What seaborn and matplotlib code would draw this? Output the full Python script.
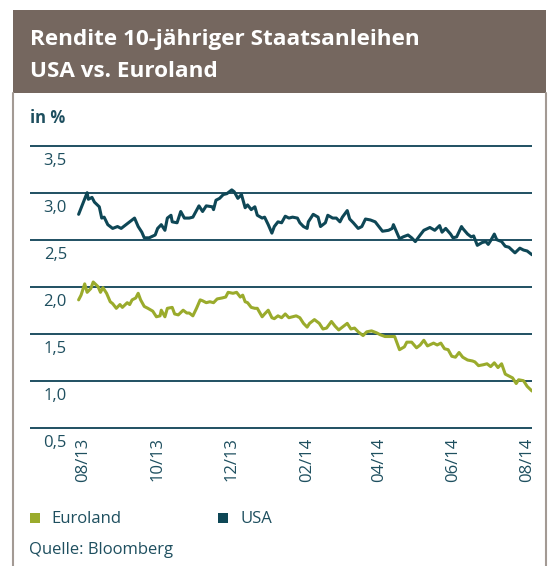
import pandas as pd
import seaborn as sns
import matplotlib.pyplot as plt
from matplotlib.patches import Rectangle

# Data (days after 28 Jul 2013, yield in %)
usa_days = [0, 7, 8, 11, 13, 17, 19, 21, 24, 28, 32, 35, 38, 42, 46, 49, 52, 54, 58, 63,
            65, 68, 71, 73, 76, 77, 81, 84, 87, 91, 94, 99, 102, 105, 110, 111, 113, 116, 119, 122,
            126, 128, 131, 134, 137, 139, 142, 145, 147, 151, 153, 156, 159, 161, 164, 167, 170, 173, 176, 180,
            182, 185, 188, 189, 193, 197, 199, 203, 205, 209, 212, 215, 217, 221, 223, 226, 230, 233, 236, 240,
            244, 247, 250, 255, 258, 259, 264, 267, 271, 274, 277, 281, 284, 289, 293, 297, 299, 302, 306, 308,
            311, 315, 316, 320, 323, 325, 328, 332, 335, 337, 339, 342, 344, 348, 351, 354, 359, 363, 366, 369,
            372, 373]
usa_yield = [2.77, 3.00, 2.93, 2.95, 2.90, 2.85, 2.73, 2.74, 2.66, 2.62, 2.64, 2.62, 2.65, 2.69, 2.73, 2.64, 2.58, 2.52, 2.52, 2.55,
             2.62, 2.66, 2.60, 2.73, 2.76, 2.69, 2.68, 2.80, 2.73, 2.73, 2.74, 2.86, 2.80, 2.86, 2.85, 2.82, 2.92, 2.94, 2.98, 2.99,
             3.03, 3.01, 2.94, 2.98, 2.84, 2.87, 2.82, 2.85, 2.76, 2.73, 2.74, 2.66, 2.57, 2.64, 2.69, 2.68, 2.75, 2.73, 2.74, 2.73,
             2.68, 2.64, 2.62, 2.69, 2.77, 2.74, 2.64, 2.68, 2.76, 2.73, 2.73, 2.69, 2.74, 2.81, 2.72, 2.68, 2.62, 2.64, 2.72, 2.71,
             2.69, 2.64, 2.59, 2.60, 2.62, 2.66, 2.51, 2.53, 2.55, 2.52, 2.48, 2.55, 2.60, 2.63, 2.60, 2.65, 2.58, 2.62, 2.56, 2.52,
             2.53, 2.64, 2.62, 2.56, 2.53, 2.54, 2.44, 2.47, 2.48, 2.45, 2.49, 2.56, 2.50, 2.48, 2.43, 2.42, 2.36, 2.41, 2.39, 2.38,
             2.35, 2.34]

eur_days = [0, 2, 5, 7, 10, 12, 16, 18, 20, 23, 26, 28, 31, 34, 36, 40, 42, 44, 47, 49,
            51, 54, 57, 61, 64, 67, 68, 71, 73, 77, 79, 82, 86, 89, 91, 94, 97, 100, 102, 105,
            108, 111, 114, 118, 121, 123, 127, 130, 133, 135, 137, 139, 142, 145, 147, 151, 153, 156, 159, 161,
            164, 167, 170, 173, 176, 179, 182, 185, 188, 190, 194, 198, 201, 204, 208, 211, 214, 217, 221, 224,
            227, 230, 234, 237, 241, 245, 248, 252, 256, 260, 264, 268, 270, 274, 278, 281, 284, 287, 292, 295,
            298, 301, 304, 307, 310, 313, 316, 320, 324, 326, 329, 333, 336, 339, 342, 345, 348, 351, 354, 357,
            360, 362, 366, 369, 373]
eur_yield = [1.86, 1.91, 2.03, 1.94, 1.98, 2.05, 2.00, 1.94, 1.99, 1.93, 1.84, 1.82, 1.77, 1.81, 1.78, 1.83, 1.81, 1.86, 1.88, 1.93,
             1.86, 1.79, 1.77, 1.74, 1.68, 1.69, 1.75, 1.68, 1.77, 1.78, 1.71, 1.70, 1.75, 1.72, 1.72, 1.69, 1.77, 1.86, 1.85, 1.83,
             1.84, 1.83, 1.87, 1.88, 1.89, 1.94, 1.93, 1.94, 1.89, 1.91, 1.84, 1.83, 1.78, 1.77, 1.77, 1.68, 1.71, 1.75, 1.67, 1.66,
             1.69, 1.67, 1.71, 1.67, 1.68, 1.69, 1.67, 1.61, 1.57, 1.61, 1.65, 1.61, 1.55, 1.56, 1.63, 1.58, 1.54, 1.57, 1.61, 1.55,
             1.56, 1.52, 1.48, 1.52, 1.53, 1.51, 1.49, 1.47, 1.47, 1.47, 1.33, 1.36, 1.41, 1.41, 1.35, 1.38, 1.43, 1.37, 1.40, 1.38,
             1.40, 1.34, 1.33, 1.26, 1.25, 1.30, 1.25, 1.22, 1.21, 1.20, 1.16, 1.17, 1.18, 1.15, 1.19, 1.14, 1.18, 1.07, 1.05, 1.03,
             0.97, 1.01, 1.00, 0.94, 0.89]

start_date = pd.Timestamp('2013-07-28')
tick_dates = ['2013-08-01', '2013-10-01', '2013-12-01', '2014-02-01', '2014-04-01', '2014-06-01', '2014-08-01']
tick_labels = ['08/13', '10/13', '12/13', '02/14', '04/14', '06/14', '08/14']
y_ticks = [0.5, 1.0, 1.5, 2.0, 2.5, 3.0, 3.5]
y_labels = ['0,5', '1,0', '1,5', '2,0', '2,5', '3,0', '3,5']

usa = pd.DataFrame({'Datum': start_date + pd.to_timedelta(usa_days, unit='D'), 'Rendite': usa_yield, 'Land': 'USA'})
eur = pd.DataFrame({'Datum': start_date + pd.to_timedelta(eur_days, unit='D'), 'Rendite': eur_yield, 'Land': 'Euroland'})
df = pd.concat([eur, usa], ignore_index=True)

teal = '#0e4756'
green = '#9aab2c'
text_col = '#1e4f5f'
grid_col = '#1f5062'
header_col = '#75675f'
border_col = '#a39a94'

sns.set_style('white')
plt.rcParams['font.family'] = ['Open Sans', 'DejaVu Sans']

W, H = 550, 566
fig = plt.figure(figsize=(W / 100, H / 100), dpi=100)


def fx(px):
    return px / W


def fy(py):
    return 1 - py / H


# frame and header
fig.patches.append(Rectangle((fx(13), fy(93)), fx(546) - fx(13), fy(10) - fy(93),
                             transform=fig.transFigure, facecolor=header_col, edgecolor='none'))
for bx in [13, 546]:
    fig.add_artist(plt.Line2D([fx(bx), fx(bx)], [fy(93), fy(566)], transform=fig.transFigure,
                              color=border_col, lw=1.5))
fig.text(fx(30), fy(45), 'Rendite 10-jähriger Staatsanleihen', color='white', fontsize=16.2,
         fontweight='bold', va='baseline')
fig.text(fx(30), fy(77), 'USA vs. Euroland', color='white', fontsize=16.2, fontweight='bold', va='baseline')
fig.text(fx(30), fy(123), 'in %', color=text_col, fontsize=12, fontweight='bold', va='baseline')

ax = fig.add_axes([fx(30), fy(427.7), fx(532) - fx(30), fy(145.7) - fy(427.7)])
sns.lineplot(data=df, x='Datum', y='Rendite', hue='Land', palette={'Euroland': green, 'USA': teal},
             linewidth=2.2, legend=False, ax=ax, estimator=None)

ax.set_ylim(0.5, 3.5)
ax.set_xlim(start_date - pd.Timedelta(days=40), start_date + pd.Timedelta(days=373))
for s in ax.spines.values():
    s.set_visible(False)
ax.hlines(y_ticks, 0, 1, transform=ax.get_yaxis_transform(), colors=grid_col, lw=1.4, clip_on=False, zorder=0)
ax.set_yticks([])
for v, lab in zip(y_ticks, y_labels):
    ax.text(37 / 502, v - 0.205, lab, transform=ax.get_yaxis_transform(), ha='right', va='baseline',
            color=text_col, fontsize=12)
ax.set_xticks(pd.to_datetime(tick_dates))
ax.set_xticklabels(tick_labels, rotation=90, color=text_col, fontsize=12, va='top', ha='center')
ax.tick_params(axis='x', length=0, pad=7)
ax.set_xlabel('')
ax.set_ylabel('')

# legend and source
fig.patches.append(Rectangle((fx(30), fy(523)), fx(10), fx(10) * W / H, transform=fig.transFigure,
                             facecolor=green, edgecolor='none'))
fig.text(fx(51), fy(523), 'Euroland', color=text_col, fontsize=12, va='baseline')
fig.patches.append(Rectangle((fx(218), fy(523)), fx(10), fx(10) * W / H, transform=fig.transFigure,
                             facecolor=teal, edgecolor='none'))
fig.text(fx(240), fy(523), 'USA', color=text_col, fontsize=12, va='baseline')
fig.text(fx(29), fy(554), 'Quelle: Bloomberg', color=text_col, fontsize=12, va='baseline')

fig.savefig('out.png', dpi=100)
